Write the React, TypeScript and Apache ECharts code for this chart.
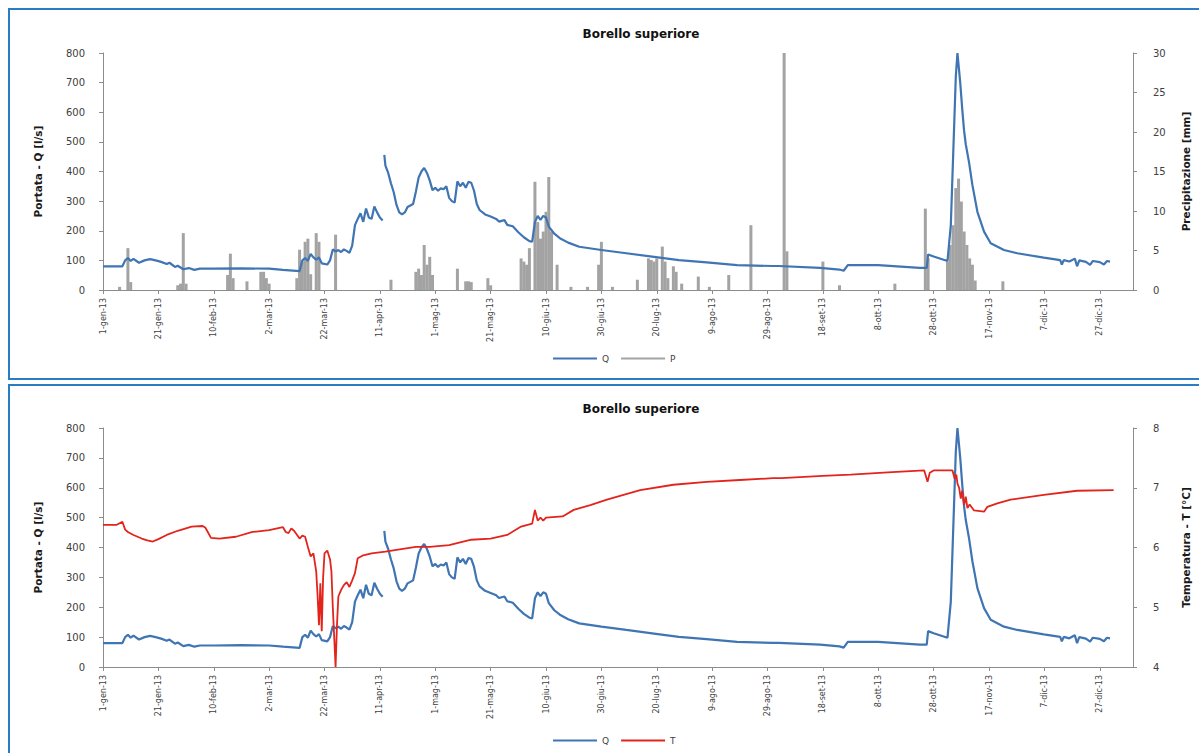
import React, { useEffect, useRef } from "react";
import * as echarts from "echarts";

// ---- data (day index: 0 = 1 Jan 2013) ----
const MONTHS_IT = ["gen", "feb", "mar", "apr", "mag", "giu", "lug", "ago", "set", "ott", "nov", "dic"];
const TITLE = "Borello superiore";
const Q_NAME = "Q";
const P_NAME = "P";
const T_NAME = "T";

// Portata Q [l/s]
const qFlow: [number, number | string][] = [
  [0, 80], [7, 80], [8, 100], [9, 108], [10, 98], [11, 105], [13, 92], [15, 100], [17, 104], [19, 100],
  [21, 95], [23, 88], [24, 92], [26, 78], [27, 82], [29, 70], [31, 74], [33, 68], [35, 72], [40, 72],
  [50, 73], [60, 72], [65, 68], [71, 64], [72, 100], [73, 108], [74, 98], [75, 122], [76, 110], [77, 102],
  [78, 110], [79, 90], [81, 86], [82, 100], [83, 137], [84, 130], [85, 135], [86, 128], [87, 137], [88, 132],
  [89, 125], [90, 150], [91, 219], [92, 240], [93, 259], [94, 230], [95, 275], [96, 245], [97, 240], [98, 282],
  [99, 262], [100, 245], [101, 235], [101.3, "-"], [101.6, 456], [102, 420], [103, 395], [104, 360], [105, 330],
  [106, 287], [107, 262], [108, 255], [109, 262], [110, 280], [111, 285], [112, 290], [113, 332], [114, 380],
  [115, 400], [116, 412], [117, 395], [118, 370], [119, 337], [120, 345], [121, 335], [122, 343], [123, 340],
  [124, 350], [125, 311], [126, 300], [127, 295], [128, 367], [129, 350], [130, 362], [131, 345], [132, 365],
  [133, 362], [134, 335], [135, 290], [136, 270], [138, 255], [140, 248], [142, 240], [143, 231], [145, 236],
  [146, 220], [148, 215], [150, 195], [152, 178], [154, 165], [155, 163], [156, 230], [157, 250], [158, 237],
  [159, 250], [160, 245], [161, 214], [163, 190], [165, 175], [168, 160], [172, 146], [180, 135], [189, 124],
  [199, 112], [208, 101], [218, 93], [229, 84], [242, 81], [244, 81], [259, 75], [266, 69], [267.5, 65],
  [269, 84], [280, 84], [295, 75], [297.5, 75], [298, 120], [300, 113], [305, 98], [306.2, 219], [308, 720],
  [308.6, 800], [309.6, 700], [310.4, 602], [311, 537], [311.6, 492], [312.8, 430], [314, 354],
  [315.8, 264], [318.2, 197], [320.6, 158], [325.4, 135], [330.2, 124], [339.8, 109], [345.7, 101], [346.3, 86],
  [347, 101], [349, 96], [351, 106], [351.8, 80], [352.6, 100], [355, 95], [356.5, 85], [357.5, 98], [360, 94],
  [361.5, 86], [362.6, 98], [363.7, 96],
];

// Precipitazione P [mm]
const precip: [number, number][] = [
  [6, 0.4], [9, 5.3], [10, 1.0], [27, 0.6], [28, 0.8], [29, 7.2], [30, 0.8], [45, 1.9], [46, 4.6], [47, 1.5],
  [52, 1.1], [57, 2.3], [58, 2.3], [59, 1.5], [60, 0.8], [70, 1.5], [71, 5.1], [72, 3.6], [73, 6.1], [74, 6.5],
  [75, 2.0], [77, 7.2], [78, 6.1], [84, 7.0], [104, 1.3], [113, 2.3], [114, 2.7], [115, 1.9], [116, 5.7],
  [117, 3.2], [118, 4.2], [119, 1.9], [128, 2.7], [131, 1.1], [132, 1.1], [133, 1.0], [139, 1.5], [140, 0.6],
  [151, 4.0], [152, 3.6], [153, 3.2], [154, 5.3], [156, 13.7], [157, 8.6], [158, 6.5], [159, 7.4], [160, 9.9],
  [161, 14.3], [162, 7.4], [164, 3.2], [169, 0.4], [175, 0.4], [179, 3.2], [180, 6.1], [184, 0.4], [193, 1.3],
  [197, 4.0], [198, 3.8], [199, 3.6], [200, 4.0], [202, 5.5], [203, 3.6], [204, 1.5], [206, 3.0], [207, 2.3],
  [209, 0.8], [215, 1.7], [219, 0.4], [226, 1.9], [234, 8.2], [246, 30], [247, 4.9], [260, 3.6], [266, 0.6],
  [286, 0.8], [297, 10.3], [298, 4.0], [305, 3.6], [306, 5.7], [307, 8.2], [308, 12.9], [309, 14.1],
  [310, 11.2], [311, 7.4], [312, 5.7], [313, 4.0], [314, 3.2], [315, 1.2], [325, 1.1],
];

// Temperatura T [°C]
const temp: [number, number][] = [
  [0, 6.38], [5, 6.38], [7, 6.43], [8, 6.3], [9, 6.26], [11, 6.21], [14, 6.15], [16, 6.12], [18, 6.1],
  [20, 6.14], [23, 6.21], [27, 6.28], [32, 6.35], [36, 6.36], [37, 6.33], [39, 6.16], [42, 6.15], [48, 6.18],
  [54, 6.26], [60, 6.29], [65, 6.34], [66, 6.26], [67, 6.24], [68, 6.32], [69, 6.28], [71, 6.15], [72, 6.2],
  [73, 6.18], [74, 6.01], [75, 5.85], [76, 5.9], [77, 5.6], [77.5, 5.2], [78, 4.7], [78.5, 5.4], [79, 4.6],
  [79.5, 5.5], [80, 5.9], [81, 5.95], [82, 5.8], [82.5, 5.6], [83, 5.0], [83.5, 4.5], [84, 4.0], [84.5, 4.7],
  [85, 5.18], [86, 5.29], [87, 5.37], [88, 5.42], [89, 5.34], [90, 5.45], [91, 5.57], [92, 5.82], [94, 5.87],
  [97, 5.9], [102, 5.93], [106, 5.96], [113, 6.01], [118, 6.01], [125, 6.04], [133, 6.13], [140, 6.15],
  [146, 6.21], [151, 6.35], [155, 6.4], [156, 6.63], [157, 6.45], [158, 6.5], [159, 6.45], [160, 6.5],
  [166, 6.52], [170, 6.63], [176, 6.71], [182, 6.8], [194, 6.96], [206, 7.05], [218, 7.1], [230, 7.13],
  [242, 7.16], [245, 7.16], [260, 7.2], [270, 7.22], [285, 7.26], [296.6, 7.29], [297.8, 7.1], [298.6, 7.25],
  [300, 7.29], [306.8, 7.29], [307.6, 7.15], [308.2, 7.22], [308.6, 7.07], [309.2, 7.0], [309.8, 6.82],
  [310.3, 6.95], [311, 6.71], [311.6, 6.85], [312.2, 6.66], [313, 6.72], [314.6, 6.62], [318.2, 6.6],
  [319.4, 6.68], [323, 6.74], [327.8, 6.8], [339.8, 6.88], [351.8, 6.95], [365, 6.96],
];

const X_MIN = 0;
const X_MAX = 372;
const X_STEP = 20;

const FONT = "DejaVu Sans";
const AXIS_COLOR = "#8c8c8c";
const LABEL_COLOR = "#404040";
const Q_COLOR = "#3f75b3";
const P_COLOR = "#a3a3a3";
const T_COLOR = "#e3241d";
const FRAME_COLOR = "#2a7cc3";

function dayLabel(v: number): string {
  if (v % X_STEP !== 0) return "";
  const d = new Date(Date.UTC(2013, 0, 1) + v * 86400000);
  return `${d.getUTCDate()}-${MONTHS_IT[d.getUTCMonth()]}-${String(d.getUTCFullYear()).slice(2)}`;
}

function xAxisOpt() {
  return {
    type: "value",
    min: X_MIN,
    max: X_MAX,
    interval: X_STEP,
    axisLine: { show: true, lineStyle: { color: AXIS_COLOR } },
    axisTick: { show: true, length: 4, lineStyle: { color: AXIS_COLOR } },
    axisLabel: {
      rotate: 90,
      fontSize: 8,
      fontFamily: FONT,
      color: LABEL_COLOR,
      margin: 8,
      showMaxLabel: false,
      formatter: (v: number) => dayLabel(v),
    },
    splitLine: { show: false },
  };
}

function yAxisOpt(name: string, min: number, max: number, interval: number, right: boolean) {
  return {
    type: "value",
    position: right ? "right" : "left",
    min,
    max,
    interval,
    name,
    nameLocation: "middle",
    nameRotate: 90,
    nameGap: right ? 47 : 60,
    nameTextStyle: { fontSize: 10.5, fontWeight: "bold", color: "#1a1a1a", fontFamily: FONT },
    axisLine: { show: true, lineStyle: { color: AXIS_COLOR } },
    axisTick: { show: true, length: 4, lineStyle: { color: AXIS_COLOR } },
    axisLabel: { fontSize: 10, fontFamily: FONT, color: LABEL_COLOR, margin: right ? 20 : 18 },
    splitLine: { show: false },
  };
}

function legendOpt(top: number, names: string[], colors: string[]) {
  return {
    top,
    left: 548,
    orient: "horizontal",
    itemWidth: 44,
    itemHeight: 2,
    itemGap: 12,
    icon: "rect",
    textStyle: { fontSize: 9, fontFamily: FONT, color: LABEL_COLOR },
    data: names.map((n, i) => ({ name: n, itemStyle: { color: colors[i] } })),
  };
}

function titleOpt(top: number) {
  return {
    text: TITLE,
    left: 636,
    top,
    textAlign: "center",
    textStyle: { fontSize: 12, fontWeight: "bold", fontFamily: FONT, color: "#111" },
  };
}

function topOption() {
  return {
    animation: false,
    backgroundColor: "#ffffff",
    title: titleOpt(23),
    legend: legendOpt(349, [Q_NAME, P_NAME], [Q_COLOR, P_COLOR]),
    grid: { left: 103, right: 63, top: 53, bottom: 91, containLabel: false },
    xAxis: xAxisOpt(),
    yAxis: [
      yAxisOpt("Portata - Q [l/s]", 0, 800, 100, false),
      yAxisOpt("Precipitazione [mm]", 0, 30, 5, true),
    ],
    series: [
      {
        name: P_NAME,
        type: "bar",
        yAxisIndex: 1,
        barWidth: 3,
        itemStyle: { color: P_COLOR },
        data: precip,
      },
      {
        name: Q_NAME,
        type: "line",
        yAxisIndex: 0,
        showSymbol: false,
        symbol: "none",
        connectNulls: false,
        lineStyle: { color: Q_COLOR, width: 2.2 },
        itemStyle: { color: Q_COLOR },
        data: qFlow,
      },
    ],
  };
}

function bottomOption() {
  return {
    animation: false,
    backgroundColor: "#ffffff",
    title: titleOpt(17),
    legend: legendOpt(350, [Q_NAME, T_NAME], [Q_COLOR, T_COLOR]),
    grid: { left: 103, right: 63, top: 47, bottom: 86, containLabel: false },
    xAxis: xAxisOpt(),
    yAxis: [
      yAxisOpt("Portata - Q [l/s]", 0, 800, 100, false),
      yAxisOpt("Temperatura - T [°C]", 4, 8, 1, true),
    ],
    series: [
      {
        name: Q_NAME,
        type: "line",
        yAxisIndex: 0,
        showSymbol: false,
        symbol: "none",
        connectNulls: false,
        lineStyle: { color: Q_COLOR, width: 2.2 },
        itemStyle: { color: Q_COLOR },
        data: qFlow,
      },
      {
        name: T_NAME,
        type: "line",
        yAxisIndex: 1,
        showSymbol: false,
        symbol: "none",
        lineStyle: { color: T_COLOR, width: 1.8 },
        itemStyle: { color: T_COLOR },
        data: temp,
      },
    ],
  };
}

export default function App() {
  const topRef = useRef<HTMLDivElement>(null);
  const botRef = useRef<HTMLDivElement>(null);

  useEffect(() => {
    const c1 = echarts.init(topRef.current!, null, { renderer: "svg" });
    const c2 = echarts.init(botRef.current!, null, { renderer: "svg" });
    c1.setOption(topOption() as any);
    c2.setOption(bottomOption() as any);
    return () => {
      c1.dispose();
      c2.dispose();
    };
  }, []);

  return (
    <div style={{ position: "fixed", left: 0, top: 0, width: 1199, height: 753, overflow: "hidden", background: "#fff" }}>
      <div ref={topRef} style={{ position: "absolute", left: 0, top: 0, width: 1199, height: 381 }} />
      <div ref={botRef} style={{ position: "absolute", left: 0, top: 381, width: 1199, height: 372 }} />
      <div
        style={{
          position: "absolute", left: 8, top: 8, width: 1200, height: 372,
          border: `2px solid ${FRAME_COLOR}`, boxSizing: "border-box", pointerEvents: "none",
        }}
      />
      <div
        style={{
          position: "absolute", left: 8, top: 384, width: 1200, height: 400,
          border: `2px solid ${FRAME_COLOR}`, boxSizing: "border-box", pointerEvents: "none",
        }}
      />
    </div>
  );
}
